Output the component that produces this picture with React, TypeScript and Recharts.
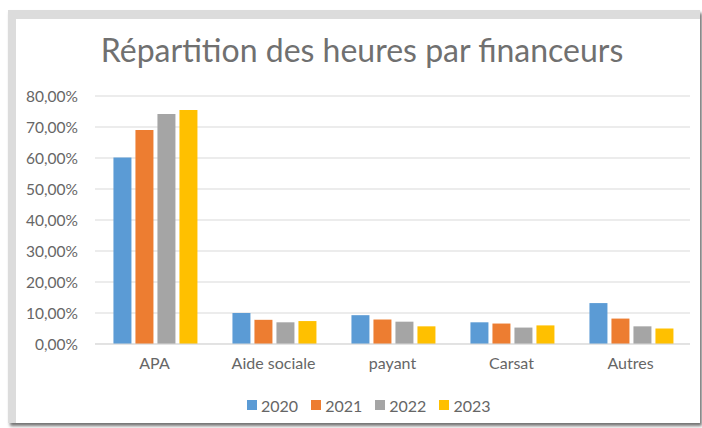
import { Bar, BarChart, CartesianGrid, Legend, XAxis, YAxis } from "recharts"

const categories = ["APA", "Aide sociale", "payant", "Carsat", "Autres"]
const years = ["2020", "2021", "2022", "2023"]
const values2020 = [60.2, 10.0, 9.3, 7.0, 13.2]
const values2021 = [69.0, 7.8, 7.9, 6.6, 8.2]
const values2022 = [74.2, 7.0, 7.2, 5.3, 5.7]
const values2023 = [75.5, 7.4, 5.7, 6.0, 5.0]
const yTicks = [0, 10, 20, 30, 40, 50, 60, 70, 80]

const colors = ["#5B9BD5", "#ED7D31", "#A5A5A5", "#FFC000"]
const font = "Lato, 'Noto Sans', sans-serif"
const textColor = "#666666"

const data = categories.map((name, i) => ({
  name,
  "2020": values2020[i],
  "2021": values2021[i],
  "2022": values2022[i],
  "2023": values2023[i],
}))

const fmt = (v: number) => `${v.toFixed(2).replace(".", ",")}%`

function LegendBox() {
  return (
    <div style={{ display: "flex", gap: 13, fontFamily: font, fontSize: 16, color: textColor, height: 20, alignItems: "center" }}>
      {years.map((y, i) => (
        <div key={y} style={{ display: "flex", alignItems: "center", gap: 4 }}>
          <span style={{ width: 10, height: 10, background: colors[i], display: "inline-block" }} />
          <span>{y}</span>
        </div>
      ))}
    </div>
  )
}

export default function App() {
  return (
    <div style={{ position: "relative", width: 702, height: 428, background: "#fff", overflow: "hidden" }}>
      <style>{"body{margin:0}"}</style>
      <div
        style={{
          position: "absolute",
          left: 8,
          top: 10,
          width: 684,
          height: 404,
          background: "#fff",
          borderTop: "9px solid #dcdcdc",
          borderLeft: "8px solid #dcdcdc",
          boxShadow: "2px 3px 3px rgba(0,0,0,0.55)",
        }}
      />
      <div
        style={{
          position: "absolute",
          left: 62,
          width: 600,
          top: 30,
          textAlign: "center",
          fontFamily: font,
          fontSize: 32,
          color: "#707070",
        }}
      >
        Répartition des heures par financeurs
      </div>
      <div style={{ position: "absolute", left: 0, top: 0 }}>
        <BarChart
          width={702}
          height={428}
          data={data}
          margin={{ top: 96, right: 12, bottom: 13, left: 8 }}
          barCategoryGap="15.5%"
          barGap={4}
        >
          <CartesianGrid vertical={false} stroke="#d9d9d9" />
          <XAxis
            dataKey="name"
            height={51}
            tickSize={0}
            tickMargin={14}
            stroke="#d9d9d9"
            tick={{ fill: textColor, fontSize: 16, fontFamily: font }}
          />
          <YAxis
            width={87}
            domain={[0, 80]}
            ticks={yTicks}
            tickFormatter={fmt}
            axisLine={false}
            tickSize={0}
            tickMargin={17}
            tick={{ fill: textColor, fontSize: 15.5, fontFamily: font }}
          />
          <Legend verticalAlign="bottom" content={<LegendBox />} wrapperStyle={{ left: 247, width: "auto", height: 20 }} />
          {years.map((y, i) => (
            <Bar key={y} dataKey={y} fill={colors[i]} isAnimationActive={false} />
          ))}
        </BarChart>
      </div>
    </div>
  )
}
